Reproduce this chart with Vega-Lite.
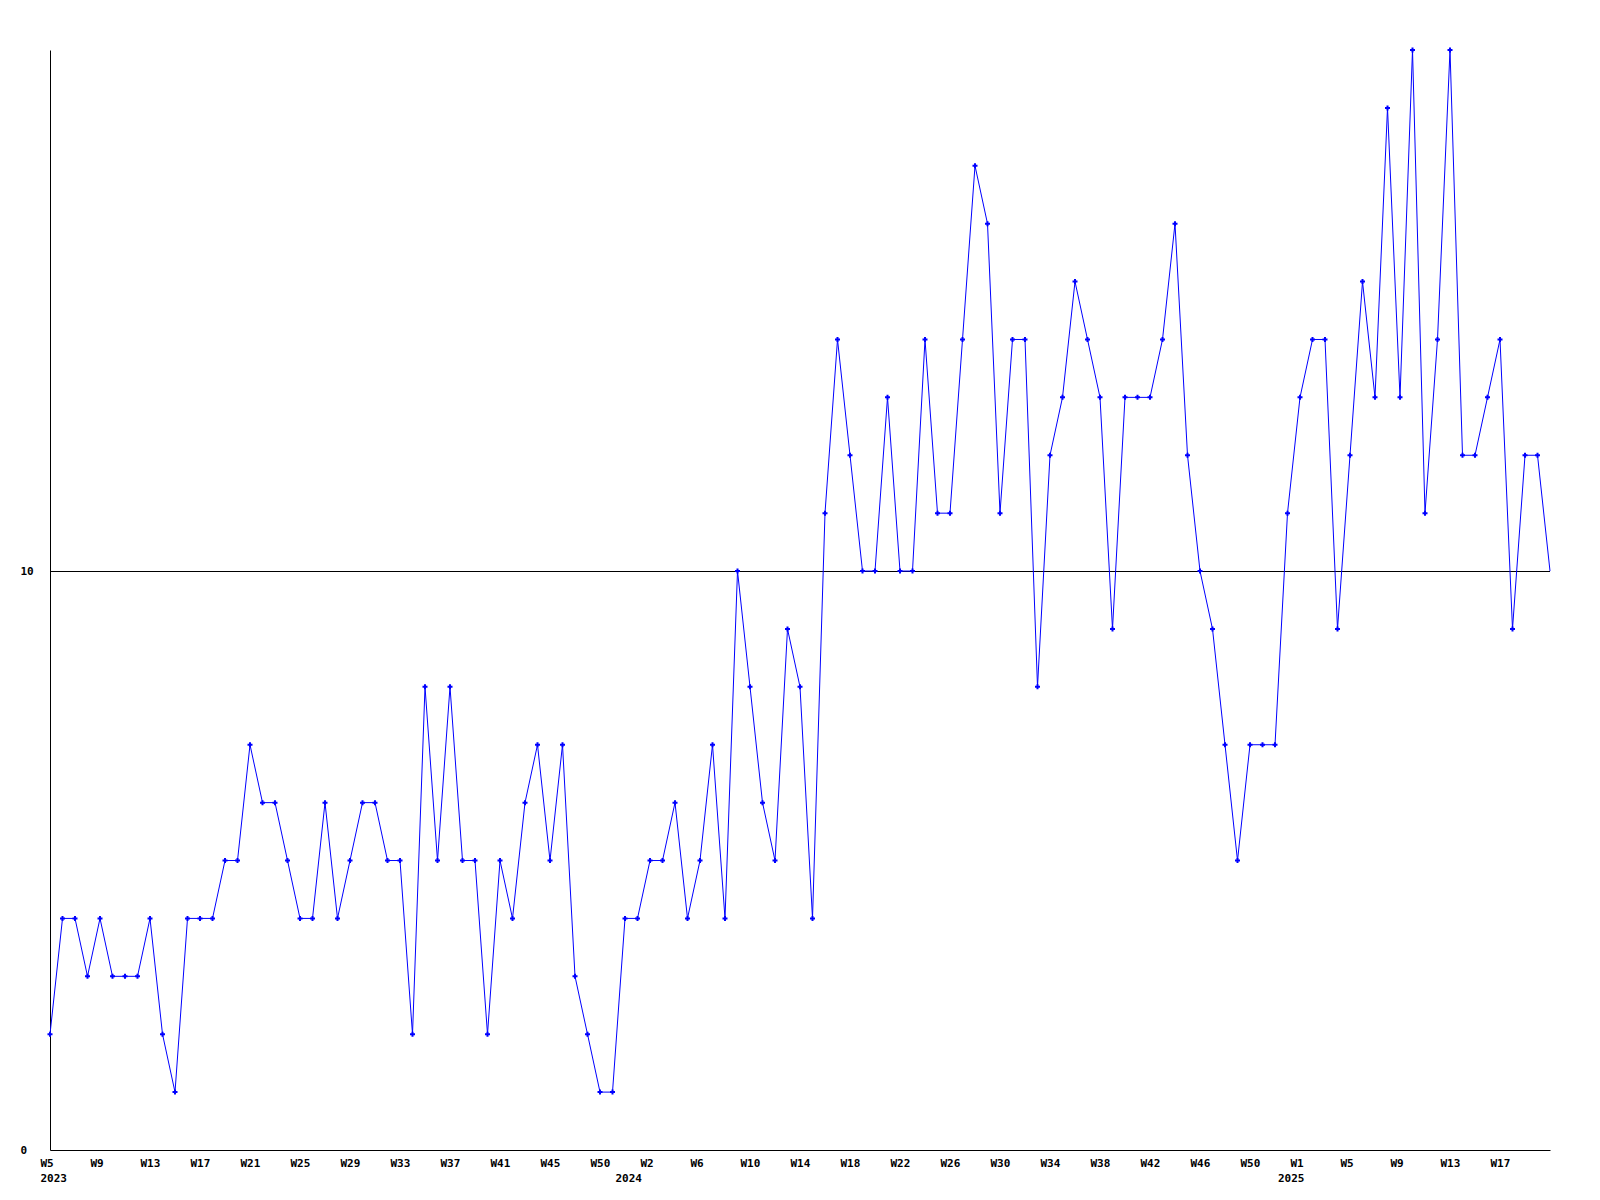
{
  "$schema": "https://vega.github.io/schema/vega-lite/v6.json",
  "width": 1500,
  "height": 1100,
  "autosize": {"type": "none"},
  "padding": {"left": 50, "top": 50, "right": 50, "bottom": 50},
  "background": "white",
  "config": {
    "view": {"stroke": null},
    "axis": {
      "labelFont": "DejaVu Sans Mono",
      "labelFontSize": 11,
      "labelFontWeight": "bold",
      "labelColor": "black",
      "domainColor": "black",
      "domainWidth": 1,
      "ticks": false,
      "grid": false,
      "title": null,
      "labelOverlap": false,
      "labelFlush": false,
      "labelBound": false
    }
  },
  "data": {
    "values": [
      {"i": 0, "v": 2}, {"i": 1, "v": 4}, {"i": 2, "v": 4}, {"i": 3, "v": 3}, {"i": 4, "v": 4},
      {"i": 5, "v": 3}, {"i": 6, "v": 3}, {"i": 7, "v": 3}, {"i": 8, "v": 4}, {"i": 9, "v": 2},
      {"i": 10, "v": 1}, {"i": 11, "v": 4}, {"i": 12, "v": 4}, {"i": 13, "v": 4}, {"i": 14, "v": 5},
      {"i": 15, "v": 5}, {"i": 16, "v": 7}, {"i": 17, "v": 6}, {"i": 18, "v": 6}, {"i": 19, "v": 5},
      {"i": 20, "v": 4}, {"i": 21, "v": 4}, {"i": 22, "v": 6}, {"i": 23, "v": 4}, {"i": 24, "v": 5},
      {"i": 25, "v": 6}, {"i": 26, "v": 6}, {"i": 27, "v": 5}, {"i": 28, "v": 5}, {"i": 29, "v": 2},
      {"i": 30, "v": 8}, {"i": 31, "v": 5}, {"i": 32, "v": 8}, {"i": 33, "v": 5}, {"i": 34, "v": 5},
      {"i": 35, "v": 2}, {"i": 36, "v": 5}, {"i": 37, "v": 4}, {"i": 38, "v": 6}, {"i": 39, "v": 7},
      {"i": 40, "v": 5}, {"i": 41, "v": 7}, {"i": 42, "v": 3}, {"i": 43, "v": 2}, {"i": 44, "v": 1},
      {"i": 45, "v": 1}, {"i": 46, "v": 4}, {"i": 47, "v": 4}, {"i": 48, "v": 5}, {"i": 49, "v": 5},
      {"i": 50, "v": 6}, {"i": 51, "v": 4}, {"i": 52, "v": 5}, {"i": 53, "v": 7}, {"i": 54, "v": 4},
      {"i": 55, "v": 10}, {"i": 56, "v": 8}, {"i": 57, "v": 6}, {"i": 58, "v": 5}, {"i": 59, "v": 9},
      {"i": 60, "v": 8}, {"i": 61, "v": 4}, {"i": 62, "v": 11}, {"i": 63, "v": 14}, {"i": 64, "v": 12},
      {"i": 65, "v": 10}, {"i": 66, "v": 10}, {"i": 67, "v": 13}, {"i": 68, "v": 10}, {"i": 69, "v": 10},
      {"i": 70, "v": 14}, {"i": 71, "v": 11}, {"i": 72, "v": 11}, {"i": 73, "v": 14}, {"i": 74, "v": 17},
      {"i": 75, "v": 16}, {"i": 76, "v": 11}, {"i": 77, "v": 14}, {"i": 78, "v": 14}, {"i": 79, "v": 8},
      {"i": 80, "v": 12}, {"i": 81, "v": 13}, {"i": 82, "v": 15}, {"i": 83, "v": 14}, {"i": 84, "v": 13},
      {"i": 85, "v": 9}, {"i": 86, "v": 13}, {"i": 87, "v": 13}, {"i": 88, "v": 13}, {"i": 89, "v": 14},
      {"i": 90, "v": 16}, {"i": 91, "v": 12}, {"i": 92, "v": 10}, {"i": 93, "v": 9}, {"i": 94, "v": 7},
      {"i": 95, "v": 5}, {"i": 96, "v": 7}, {"i": 97, "v": 7}, {"i": 98, "v": 7}, {"i": 99, "v": 11},
      {"i": 100, "v": 13}, {"i": 101, "v": 14}, {"i": 102, "v": 14}, {"i": 103, "v": 9}, {"i": 104, "v": 12},
      {"i": 105, "v": 15}, {"i": 106, "v": 13}, {"i": 107, "v": 18}, {"i": 108, "v": 13}, {"i": 109, "v": 19},
      {"i": 110, "v": 11}, {"i": 111, "v": 14}, {"i": 112, "v": 19}, {"i": 113, "v": 12}, {"i": 114, "v": 12},
      {"i": 115, "v": 13}, {"i": 116, "v": 14}, {"i": 117, "v": 9}, {"i": 118, "v": 12}, {"i": 119, "v": 12},
      {"i": 120, "v": 10}
    ]
  },
  "layer": [
    {
      "mark": {"type": "rule", "color": "black", "strokeWidth": 1, "yOffset": 0.45},
      "encoding": {"y": {"datum": 10, "type": "quantitative"}}
    },
    {
      "mark": {"type": "line", "color": "#0000ff", "strokeWidth": 1},
      "encoding": {
        "x": {
          "field": "i", "type": "quantitative",
          "scale": {"domain": [0, 120], "nice": false, "zero": false},
          "axis": {
            "orient": "bottom",
            "domain": true,
            "values": [0, 4, 8, 12, 16, 20, 24, 28, 32, 36, 40, 44, 48, 52, 56, 60, 64, 68, 72, 76, 80, 84, 88, 92, 96, 100, 104, 108, 112, 116],
            "labelExpr": "['W5','W9','W13','W17','W21','W25','W29','W33','W37','W41','W45','W50','W2','W6','W10','W14','W18','W22','W26','W30','W34','W38','W42','W46','W50','W1','W5','W9','W13','W17'][round(datum.value/4)]",
            "labelAlign": "left",
            "labelOffset": -10,
            "labelBaseline": "top",
            "labelPadding": 7
          }
        },
        "y": {
          "field": "v", "type": "quantitative",
          "scale": {"domain": [0, 19], "nice": false, "zero": true},
          "axis": {
            "values": [0, 10],
            "format": "d",
            "labelAlign": "left",
            "labelBaseline": "middle",
            "labelPadding": 30
          }
        }
      }
    },
    {
      "transform": [{"filter": "datum.i < 120"}],
      "mark": {"type": "point", "shape": "cross", "filled": true, "color": "#0000ff", "size": 25, "opacity": 1},
      "encoding": {
        "x": {
          "field": "i", "type": "quantitative",
          "axis": {
            "orient": "bottom",
            "domain": false,
            "values": [0, 46, 99],
            "labelExpr": "datum.value == 0 ? '2023' : datum.value == 46 ? '2024' : '2025'",
            "labelAlign": "left",
            "labelOffset": -10,
            "labelBaseline": "top",
            "labelPadding": 22
          }
        },
        "y": {"field": "v", "type": "quantitative"}
      }
    }
  ],
  "resolve": {"axis": {"x": "independent"}}
}
